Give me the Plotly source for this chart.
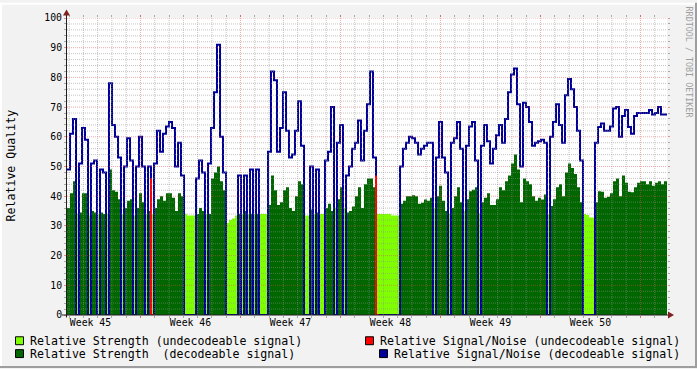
import plotly.graph_objects as go

# ---------------- data ----------------
T0 = 1.855     # first sample: days since Monday 00:00 of week 45
STEP = 0.21    # sampling step in days
SPAN = 42      # six weeks shown

decodeable = [
    1,1,1,0,1,1,1,0,1,1,
    0,1,1,0,1,1,1,1,0,1,
    1,1,0,1,1,1,0,1,0,1,
    1,1,1,1,1,1,1,1,1,0,
    0,0,0,1,1,1,0,1,1,1,
    1,1,1,0,0,0,0,1,0,1,
    0,1,0,1,0,0,0,1,1,1,
    1,1,1,1,1,1,1,1,1,0,
    0,1,0,1,0,0,1,1,1,0,
    1,1,0,1,1,1,1,1,1,1,
    1,1,1,0,0,0,0,0,0,0,
    0,1,1,1,1,1,1,1,1,1,
    1,1,0,1,1,1,1,0,1,1,
    1,1,0,1,1,1,1,0,1,1,
    1,1,1,1,1,1,1,1,1,1,
    1,1,1,1,1,1,1,1,1,1,
    0,1,1,1,1,1,1,1,1,1,
    1,1,0,0,0,0,1,1,1,1,
    1,1,1,1,1,1,1,1,1,1,
    1,1,1,1,1,1,1,1,1,1,
]

strength = [
    36,41,45,34,34.5,41,41,33.5,35,34.5,
    34,34.5,34,34,49,42,41.5,39,34,36,
    38.5,39,33.5,36,41,38,34,35,34,36,
    39,40,38.5,41,41,39.5,35,41,40,34,
    33.5,33.5,33.5,34,36,35,34,34,46,48,
    50,45,42,31,32,32.5,33.5,34,34,35,
    34,34,34,34,34,34,34,37,47,42,
    37,38,42,43,36,35,40,45,44,33.5,
    33.5,35.5,34,34.5,34,34,36,37.5,35,36,
    39,43,36,34.5,35,36.5,40,43,36,44,
    46,46,43,34,34,34,34,34,33.5,33.5,
    33.5,37.5,38.5,40,40,40.3,40,37.5,37.8,38.9,
    38.5,39.5,36,40,43.5,38.5,35,34,36,40,
    43,38,35,39,41.7,42.2,43,34.2,38,39.5,
    41,37,37,39,43,42,45,47,51,54,
    49,38,46,45,44,40,38.5,39.5,38.9,40.6,
    34,36.7,39,43,44,40,48,51,49.5,47.5,
    43,38,34,33.7,32.8,32.8,38,41.7,41.5,39.5,
    39.8,41,45,46,40,47,44.5,41.5,41.3,43,
    44.5,45,45,44,45,43.5,44.5,45,44,45,
]

snr = [
    49,61,66,None,51,63,59,None,51,52,
    None,49,48,None,78,64,60,53,None,50,
    59.5,52,None,50,60,50,None,50,None,51,
    62,55,61,63.5,65,63,50,58,47,None,
    None,None,None,46,52,48,None,51,63,75,
    91,60,48,None,None,None,None,47,None,47,
    None,49,None,49,None,None,None,55,82,79,
    55,63,75,62,53,54,62,72,57,None,
    None,50,None,49,None,None,52,55,70,None,
    58,64,None,47,50,56,58,65.5,52,62,
    71,82,53,None,None,None,None,None,None,None,
    None,50,56,58,60,59.5,58,54,56,57,
    58,58,None,53,65,53,48,None,58,59.5,
    65,56,None,57,63.5,65,52,None,57,64,
    58.5,51,56,60.5,64,58,66,75,81,83,
    71,50,71.5,70,65,57,58,58.5,59,58,
    None,60,65,71,64,58,74,79.5,76,70,
    62,52,None,None,None,None,58,63.3,64.5,62,
    62,63.5,69.5,70,60,67,69,63.3,61,67,
    68,68,68,68,69,67.5,68,70,67.5,67.5,
]

# (sample index, value) of the signal/noise reported while undecodeable
undecodeable_snr = [(28, 46), (103, 47)]

week_labels = ["Week 45", "Week 46", "Week 47", "Week 48", "Week 49", "Week 50"]
week_starts = [7, 14, 21, 28, 35, 42]        # day of each week boundary
week_centers = [3.5, 10.5, 17.5, 24.5, 31.5, 38.5]

legend_names = [
    "Relative Strength (undecodeable signal)",
    "Relative Strength  (decodeable signal)",
    "Relative Signal/Noise (undecodeable signal)",
    "Relative Signal/Noise (decodeable signal)",
]

# ---------------- styling ----------------
C_LG = "#80FF00"
C_DG = "#006600"
C_RED = "#FF0000"
C_NAVY = "#000099"
GRID = "rgba(143,143,143,0.75)"
MGRID = "rgba(222,79,79,0.6)"
ARROW = "rgb(128,31,31)"
AXIS = "rgb(31,31,31)"
MONO = "DejaVu Sans Mono"

n = len(strength)
x = [T0 + STEP * i for i in range(n + 1)]


def ext(v):
    return v + [v[-1]]


lg_y = ext([s if not d else 0 for s, d in zip(strength, decodeable)])
dg_y = ext([s if d else 0 for s, d in zip(strength, decodeable)])
nv_y = ext([(v if d else 0) for v, d in zip(snr, decodeable)])

rx, ry = [], []
for i, v in undecodeable_snr:
    rx += [x[i], x[i + 1], None]
    ry += [v, 0, None]

fig = go.Figure()
fig.add_trace(go.Scatter(x=x, y=lg_y, mode="lines", line=dict(width=0, shape="hv"),
                         fill="tozeroy", fillcolor=C_LG, hoverinfo="skip", showlegend=False))
fig.add_trace(go.Scatter(x=x, y=dg_y, mode="lines", line=dict(width=0, shape="hv"),
                         fill="tozeroy", fillcolor=C_DG, hoverinfo="skip", showlegend=False))
fig.add_trace(go.Scatter(x=x, y=nv_y, mode="lines", line=dict(width=2, shape="hv", color=C_NAVY),
                         hoverinfo="skip", showlegend=False))
fig.add_trace(go.Scatter(x=rx, y=ry, mode="lines", line=dict(width=2, shape="vh", color=C_RED),
                         hoverinfo="skip", showlegend=False, connectgaps=False))
# carrier for the week label axis
fig.add_trace(go.Scatter(x=week_centers, y=[None] * len(week_centers), xaxis="x2",
                         mode="markers", hoverinfo="skip", showlegend=False))

# plot area in page pixels (half-pixel offsets keep 1px lines crisp)
L, W = 67.0, 600.0
TOP, H = 15.5, 300.0
B = TOP + H


def px(p):
    return (p - L) / W


def py(p):
    return (B - p) / H


shapes = []
# thin dotted grid drawn on top of the data, as rrdtool does
for v in range(2, 101, 2):
    major = v % 10 == 0
    shapes.append(dict(type="line", xref="paper", yref="y", x0=0, x1=1, y0=v, y1=v,
                       line=dict(color=MGRID if major else GRID, width=0.8 if major else 0.7,
                                 dash="1px,1px"),
                       layer="above"))
d0 = int(T0) + 1
for d in range(d0, int(T0 + SPAN) + 1):
    major = d % 7 == 0
    shapes.append(dict(type="line", xref="x", yref="paper", x0=d, x1=d, y0=0, y1=1,
                       line=dict(color=MGRID if major else GRID, width=0.8 if major else 0.7,
                                 dash="1px,1px"),
                       layer="above"))

# axes with arrows
shapes.append(dict(type="line", xref="paper", yref="paper", x0=px(66.5), x1=px(66.5), y0=py(318), y1=py(9),
                   line=dict(color=AXIS, width=1), layer="above"))
shapes.append(dict(type="line", xref="paper", yref="paper", x0=px(62), x1=px(670), y0=py(315.5), y1=py(315.5),
                   line=dict(color=AXIS, width=1), layer="above"))
shapes.append(dict(type="path", xref="paper", yref="paper",
                   path=f"M {px(66.5)} {py(7)} L {px(63)} {py(13)} L {px(70)} {py(13)} Z",
                   fillcolor=ARROW, line=dict(width=0), layer="above"))
shapes.append(dict(type="path", xref="paper", yref="paper",
                   path=f"M {px(674)} {py(315.5)} L {px(668)} {py(312)} L {px(668)} {py(319)} Z",
                   fillcolor=ARROW, line=dict(width=0), layer="above"))

# frame
shapes.append(dict(type="rect", xref="paper", yref="paper", x0=px(0), x1=px(697), y0=py(367), y1=py(369),
                   fillcolor="rgb(158,158,158)", line=dict(width=0)))
shapes.append(dict(type="rect", xref="paper", yref="paper", x0=px(695), x1=px(697), y0=py(0), y1=py(369),
                   fillcolor="rgb(158,158,158)", line=dict(width=0)))
shapes.append(dict(type="rect", xref="paper", yref="paper", x0=px(0), x1=px(695), y0=py(0), y1=py(2),
                   fillcolor="rgb(255,255,255)", line=dict(width=0)))
shapes.append(dict(type="rect", xref="paper", yref="paper", x0=px(0), x1=px(2), y0=py(0), y1=py(367),
                   fillcolor="rgb(255,255,255)", line=dict(width=0)))

# legend
leg = [
    (15, 337, C_LG, 28, legend_names[0]),
    (15, 350, C_DG, 28, legend_names[1]),
    (365, 337, C_RED, 378, legend_names[2]),
    (379, 350, C_NAVY, 392, legend_names[3]),
]
annotations = []
for sx, sy, col, tx, name in leg:
    shapes.append(dict(type="rect", xref="paper", yref="paper", x0=px(sx + 0.5), x1=px(sx + 8.5),
                       y0=py(sy + 8.5), y1=py(sy + 0.5), fillcolor=col,
                       line=dict(color="black", width=1)))
    annotations.append(dict(xref="paper", yref="paper", x=px(tx), y=py(sy + 4.5), text=name,
                            showarrow=False, xanchor="left", yanchor="middle",
                            font=dict(family=MONO, size=11.6, color="black")))

annotations.append(dict(xref="paper", yref="paper", x=px(11.5), y=py(165), text="Relative Quality",
                        textangle=-90, showarrow=False, xanchor="center", yanchor="middle",
                        font=dict(family=MONO, size=11.6, color="black")))
annotations.append(dict(xref="paper", yref="paper", x=px(688.5), y=py(60), text="RRDTOOL / TOBI OETIKER",
                        textangle=90, showarrow=False, xanchor="center", yanchor="middle",
                        font=dict(family=MONO, size=8.4, color="rgb(158,158,158)")))

fig.update_layout(
    width=697, height=369, autosize=False,
    margin=dict(l=L, r=697 - L - W, t=TOP, b=369 - B, pad=0),
    paper_bgcolor="#F2F2F2", plot_bgcolor="white",
    showlegend=False,
    xaxis=dict(range=[T0, T0 + SPAN], tickmode="array", tickvals=week_starts, showticklabels=False,
               ticks="outside", ticklen=2, tickcolor=MGRID, mirror="ticks",
               showgrid=False, zeroline=False, showline=False,
               minor=dict(tickmode="linear", tick0=0, dtick=1, ticks="outside", ticklen=2,
                          tickcolor=GRID, showgrid=False)),
    xaxis2=dict(range=[T0, T0 + SPAN], overlaying="x", anchor="y", side="bottom",
                tickmode="array", tickvals=week_centers, ticktext=week_labels,
                ticks="", showgrid=False, zeroline=False, showline=False,
                tickfont=dict(family=MONO, size=9.8, color="black")),
    yaxis=dict(range=[0, 100], tickmode="linear", tick0=0, dtick=10,
               ticks="outside", ticklen=2, tickcolor=MGRID, mirror="ticks",
               showgrid=False, zeroline=False, showline=False,
               tickfont=dict(family=MONO, size=9.8, color="black"),
               minor=dict(tickmode="linear", tick0=0, dtick=2, ticks="outside", ticklen=2,
                          tickcolor=GRID, showgrid=False)),
    shapes=shapes,
    annotations=annotations,
)

fig.write_html("out.html")
